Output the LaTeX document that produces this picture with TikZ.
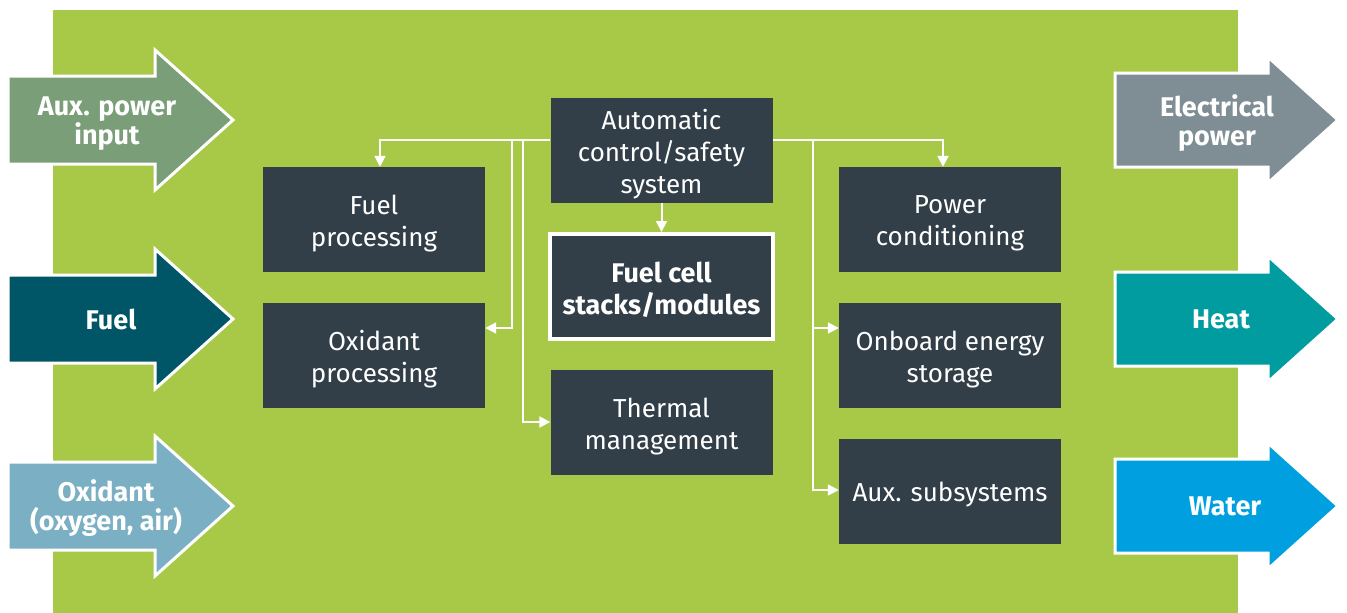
\documentclass[tikz,border=0pt]{standalone}
\usepackage{fontspec}
\setmainfont{Fira Sans}
\usetikzlibrary{arrows.meta}
\definecolor{bgreen}{HTML}{A8C947}
\definecolor{boxc}{HTML}{323F48}
\definecolor{auxc}{HTML}{7A9E78}
\definecolor{fuelc}{HTML}{005566}
\definecolor{oxc}{HTML}{7BAFC4}
\definecolor{elc}{HTML}{7F8E95}
\definecolor{heatc}{HTML}{009C9F}
\definecolor{waterc}{HTML}{00A0E0}
\begin{document}
\begin{tikzpicture}[x=1pt,y=-1pt,
  box/.style={fill=boxc, minimum width=222pt, minimum height=105pt, inner sep=0pt},
  fcbox/.style={box, draw=white, line width=4pt, minimum width=223pt, minimum height=105pt},
  btext/.style={text=white, align=center, inner sep=0pt, font=\fontsize{26}{32}\selectfont},
  fctext/.style={btext, font=\bfseries\fontsize{27}{32}\selectfont},
  conn/.style={draw=white, line width=2pt, -{Triangle[length=11pt,width=11pt]}},
  bigarrow/.style={draw=white, line width=3pt, line join=miter},
  atext/.style={text=white, align=center, font=\bfseries\fontsize{27}{29}\selectfont}]
\useasboundingbox (0,0) rectangle (1347,613);
\fill[bgreen] (53,10) rectangle (1238,613);

% left input arrows
\path[bigarrow, fill=auxc] (8,76) -- (155,76) -- (155,50) -- (233,120) -- (155,190) -- (155,164) -- (8,164) -- cycle;
\path[bigarrow, fill=fuelc] (8,275) -- (155,275) -- (155,249) -- (233,319) -- (155,389) -- (155,363) -- (8,363) -- cycle;
\path[bigarrow, fill=oxc] (8,462) -- (155,462) -- (155,436) -- (233,506) -- (155,576) -- (155,550) -- (8,550) -- cycle;
\node[atext] (tin1) at (107,124) {Aux. power\\input};
\node[atext] (tin2) at (111,319) {Fuel};
\node[atext] (tin3) at (106,508) {Oxidant\\(oxygen, air)};

% right output arrows
\path[bigarrow, fill=elc] (1115,73) -- (1268,73) -- (1268,57) -- (1338,120) -- (1268,183) -- (1268,167) -- (1115,167) -- cycle;
\path[bigarrow, fill=heatc] (1115,272) -- (1268,272) -- (1268,256) -- (1338,319) -- (1268,382) -- (1268,366) -- (1115,366) -- cycle;
\path[bigarrow, fill=waterc] (1115,459) -- (1268,459) -- (1268,443) -- (1338,506) -- (1268,569) -- (1268,553) -- (1115,553) -- cycle;
\node[atext] (tout1) at (1217,123) {Electrical\\power};
\node[atext] (tout2) at (1221,319) {Heat};
\node[atext] (tout3) at (1225,506) {Water};

% boxes
\node[box] (ctrl) at (661.5,150) {};
\node[fcbox] (fc) at (661.5,286.5) {};
\node[box] (therm) at (661.5,422.5) {};
\node[box] (fuelp) at (374,219.5) {};
\node[box] (oxp) at (374,355.5) {};
\node[box] (pc) at (950,219.5) {};
\node[box] (oes) at (950,355.5) {};
\node[box] (auxs) at (950,491.5) {};

% box texts
\node[btext] (ctrlt) at ([yshift=-4pt]ctrl.center) {Automatic\\control/safety\\system};
\node[fctext] (fct) at ([yshift=-3pt]fc.center) {Fuel cell\\stacks/modules};
\node[btext] (thermt) at ([yshift=-4pt]therm.center) {Thermal\\management};
\node[btext] (fuelpt) at ([yshift=-4pt]fuelp.center) {Fuel\\processing};
\node[btext] (oxpt) at ([yshift=-4pt]oxp.center) {Oxidant\\processing};
\node[btext] (pct) at ([yshift=-4pt]pc.center) {Power\\conditioning};
\node[btext] (oest) at ([yshift=-4pt]oes.center) {Onboard energy\\storage};
\node[btext] (auxst) at ([yshift=-3pt]auxs.center) {Aux. subsystems};

% connectors
\coordinate (cl) at (ctrl.west |- 0,140);
\coordinate (cr) at (ctrl.east |- 0,140);
\draw[conn] (cl) -| ([xshift=6pt]fuelp.north);
\draw[conn] (cl -| 512,0) |- (oxp.east |- 0,328);
\draw[conn] (cl -| 523,0) |- (therm.west |- 0,422);
\draw[conn] (ctrl.south) -- (fc.north);
\draw[conn] (cr) -| ([xshift=-7pt]pc.north);
\draw[conn] (cr -| 813,0) |- (oes.west |- 0,328);
\draw[conn] (cr -| 813,0) |- (auxs.west |- 0,490);
\end{tikzpicture}
\end{document}
